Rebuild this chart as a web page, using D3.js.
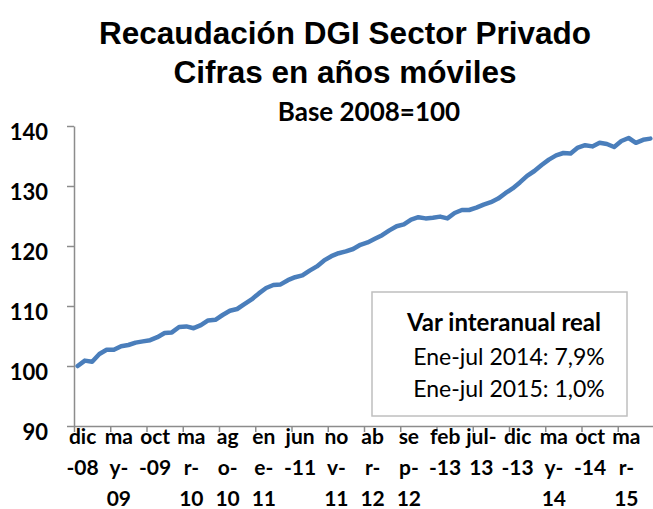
<!DOCTYPE html>
<html>
<head>
<meta charset="utf-8">
<script src="https://cdn.jsdelivr.net/npm/d3@7"></script>
<style>
body { margin: 0; background: #fff; }
</style>
</head>
<body>
<div id="chart"></div>
<script>
// monthly index, dic-08 .. jul-15 (base 2008 = 100)
var values = [
    100.0, 100.9, 100.7, 102.0, 102.7, 102.7, 103.3, 103.5, 103.9, 104.1,
    104.3, 104.8, 105.5, 105.6, 106.5, 106.6, 106.3, 106.8, 107.6, 107.7,
    108.5, 109.2, 109.5, 110.3, 111.1, 112.1, 113.0, 113.5, 113.6, 114.3,
    114.8, 115.1, 115.9, 116.6, 117.6, 118.3, 118.8, 119.1, 119.5, 120.2,
    120.6, 121.2, 121.8, 122.6, 123.3, 123.6, 124.4, 124.8, 124.6, 124.7,
    124.9, 124.6, 125.5, 126.0, 126.0, 126.4, 126.9, 127.3, 127.9, 128.8,
    129.6, 130.6, 131.7, 132.5, 133.5, 134.4, 135.1, 135.5, 135.4, 136.4,
    136.8, 136.6, 137.2, 137.0, 136.5, 137.5, 138.0, 137.2, 137.7, 137.9
];
// one label every 5 months, wrapped the way the original wraps them
var tickLabels = [
    'dic|-08', 'ma|y-|09', 'oct|-09', 'ma|r-|10', 'ag|o-|10', 'en|e-|11',
    'jun|-11', 'no|v-|11', 'ab|r-|12', 'se|p-|12', 'feb|-13', 'jul-|13',
    'dic|-13', 'ma|y-|14', 'oct|-14', 'ma|r-|15'
];
var labelEvery = 5;
var yTicks = [90, 100, 110, 120, 130, 140];

var titleLines = ['Recaudación DGI Sector Privado', 'Cifras en años móviles'];
var subtitle = 'Base 2008=100';
var noteTitle = 'Var interanual real';
var noteLines = ['Ene-jul 2014: 7,9%', 'Ene-jul 2015: 1,0%'];

var width = 653,
    height = 509,
    left = 74,
    step = 7.25,
    axisColor = '#8c8c8c';

var svg = d3.select('#chart').append('svg')
    .attr('width', width)
    .attr('height', height);

var x = d3.scaleLinear()
    .domain([0, values.length])
    .range([left, left + values.length * step]);

var y = d3.scaleLinear()
    .domain([90, 140])
    .range([426, 126]);

// titles
svg.selectAll('text.title')
    .data(titleLines)
    .enter()
    .append('text')
        .attr('class', 'title')
        .attr('x', 345)
        .attr('y', function(d, i){ return 44 + i * 39; })
        .attr('text-anchor', 'middle')
        .style('font-family', '"Liberation Sans", Arial, sans-serif')
        .style('font-weight', 'bold')
        .style('font-size', '31.5px')
        .text(function(d){ return d; });

svg.append('text')
    .attr('x', 369)
    .attr('y', 121)
    .attr('text-anchor', 'middle')
    .style('font-family', 'Lato, sans-serif')
    .style('font-weight', 'bold')
    .style('font-size', '26px')
    .text(subtitle);

// y axis
var yAxis = svg.append('g')
    .attr('transform', 'translate(' + left + ',0)')
    .call(d3.axisLeft(y).tickValues(yTicks).tickSize(7).tickSizeOuter(0).tickPadding(19));

yAxis.selectAll('text')
    .attr('dy', '0.6em')
    .style('font-family', 'Lato, sans-serif')
    .style('font-weight', 'bold')
    .style('font-size', '22px')
    .style('fill', '#000');

// x axis, tick marks every 5 months
var xAxis = svg.append('g')
    .attr('transform', 'translate(0,' + y(90) + ')')
    .call(d3.axisBottom(x)
        .tickValues(d3.range(0, values.length + 1, labelEvery))
        .tickSize(6)
        .tickSizeOuter(0)
        .tickFormat(''));

svg.selectAll('.domain, .tick line')
    .attr('stroke', axisColor)
    .attr('stroke-width', 1.5);

// category labels
var labels = svg.append('g')
    .selectAll('text.xlab')
    .data(tickLabels)
    .enter()
    .append('text')
        .attr('class', 'xlab')
        .attr('text-anchor', 'middle')
        .style('font-family', 'Lato, sans-serif')
        .style('font-weight', 'bold')
        .style('font-size', '21px');

labels.selectAll('tspan')
    .data(function(d, i){
        return d.split('|').map(function(s){ return { s: s, i: i }; });
    })
    .enter()
    .append('tspan')
        .attr('x', function(d){ return x(d.i * labelEvery + 0.5) + 5; })
        .attr('y', function(d, k){ return 444 + k * 31; })
        .text(function(d){ return d.s; });

// the series
var line = d3.line()
    .x(function(d, i){ return x(i + 0.5); })
    .y(function(d){ return y(d); });

svg.append('path')
    .datum(values)
    .attr('d', line)
    .attr('fill', 'none')
    .attr('stroke', '#4a7ebb')
    .attr('stroke-width', 4.5)
    .attr('stroke-linejoin', 'round')
    .attr('stroke-linecap', 'round');

// note box
svg.append('rect')
    .attr('x', 372)
    .attr('y', 292)
    .attr('width', 255)
    .attr('height', 124)
    .attr('fill', '#fff')
    .attr('stroke', '#bfbfbf')
    .attr('stroke-width', 1.5);

svg.append('text')
    .attr('x', 504)
    .attr('y', 331)
    .attr('text-anchor', 'middle')
    .style('font-family', 'Lato, sans-serif')
    .style('font-weight', 'bold')
    .style('font-size', '24px')
    .text(noteTitle);

svg.selectAll('text.note')
    .data(noteLines)
    .enter()
    .append('text')
        .attr('class', 'note')
        .attr('x', 509)
        .attr('y', function(d, i){ return 365 + i * 32; })
        .attr('text-anchor', 'middle')
        .style('font-family', 'Lato, sans-serif')
        .style('font-size', '23px')
        .text(function(d){ return d; });
</script>
</body>
</html>
